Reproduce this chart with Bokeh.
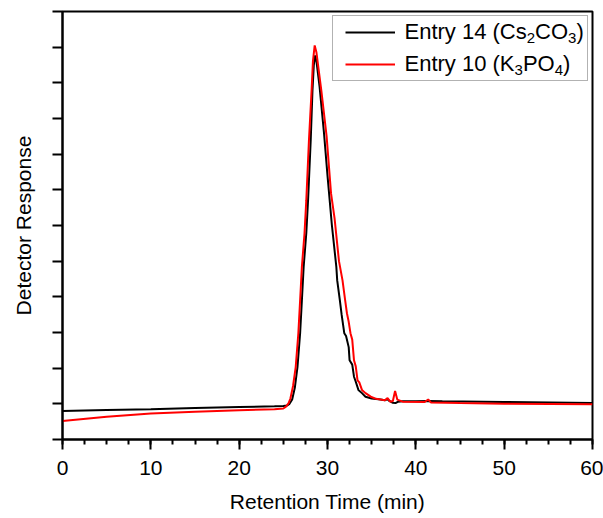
from bokeh.plotting import figure
from bokeh.models import Range1d, SingleIntervalTicker, Legend, LegendItem, FixedTicker, Label
from bokeh.embed import file_html
from bokeh.resources import INLINE

# Entry 14 (Cs2CO3) - black
t_black = [0, 5, 10, 15, 20, 24, 25, 25.4, 25.7, 26.0, 26.3, 26.6, 26.9, 27.1, 27.3,
           27.6, 27.8, 28.1, 28.3, 28.45, 28.6, 28.75, 29.1, 29.6, 30.0, 30.5,
           31.0, 31.1, 31.4, 31.6, 31.9, 32.1, 32.4, 32.5, 32.8, 33.0, 33.2, 33.5, 33.9,
           34.3, 35.0, 36.0, 36.5, 36.8, 37.0, 37.4, 37.7, 38.0, 38.5, 40.0, 41.4, 43.0,
           50.0, 60.0]
y_black = [0.80, 0.83, 0.85, 0.88, 0.91, 0.93, 0.94, 0.95, 1.00, 1.12, 1.45, 2.03, 2.98,
           3.90, 4.84, 5.79, 6.71, 8.39, 9.79, 10.50, 10.77, 10.60, 9.90, 8.60, 7.40, 6.00,
           4.84, 4.46, 3.90, 3.50, 2.98, 2.90, 2.59, 2.22, 2.10, 1.76, 1.62, 1.39, 1.30,
           1.20, 1.15, 1.12, 1.10, 1.13, 1.08, 1.03, 1.02, 1.06, 1.07, 1.07, 1.08, 1.07,
           1.05, 1.02]

# Entry 10 (K3PO4) - red
t_red = [0, 5, 10, 15, 20, 24, 25, 25.3, 25.6, 25.8, 26.1, 26.4, 26.7, 26.9, 27.1, 27.4,
         27.6, 27.9, 28.2, 28.35, 28.55, 28.75, 29.3, 29.9, 30.4, 30.8, 31.3, 31.7,
         32.0, 32.2, 32.4, 32.6, 32.8, 33.0, 33.2, 33.4, 33.6, 33.9, 34.3, 34.9, 35.5,
         36.5, 36.8, 37.1, 37.4, 37.65, 37.9, 38.5, 41.0, 41.4, 41.7, 45.0, 50.0, 60.0]
y_red = [0.52, 0.64, 0.73, 0.78, 0.82, 0.85, 0.87, 0.92, 1.02, 1.15, 1.50, 2.03, 2.98, 3.90,
         4.84, 5.79, 6.71, 8.39, 9.79, 10.60, 11.05, 10.85, 9.79, 8.50, 6.90, 6.20,
         5.00, 4.46, 3.90, 3.54, 3.30, 2.98, 2.80, 2.22, 2.05, 1.66, 1.60, 1.39, 1.30, 1.20,
         1.14, 1.10, 1.16, 1.06, 1.08, 1.36, 1.12, 1.06, 1.05, 1.12, 1.04, 1.02, 1.00, 0.99]

y_ticks = list(range(0, 13))

# legend text pieces: (text, is_subscript)
legend_runs_1 = [("Entry 14 (Cs", False), ("2", True), ("CO", False), ("3", True), (")", False)]
legend_runs_2 = [("Entry 10 (K", False), ("3", True), ("PO", False), ("4", True), (")", False)]

FONT = "Liberation Sans"
LEG_F = 22
SUB_F = 15

# advance widths (per 1000 em) of Liberation Sans glyphs used in the legend
ADV = {"E": 667, "n": 556, "t": 278, "r": 333, "y": 500, " ": 278, "(": 333, ")": 333,
       "C": 722, "s": 500, "O": 778, "K": 667, "P": 667}
for d in "0123456789":
    ADV[d] = 556


def text_width(s, size):
    return sum(ADV[c] for c in s) * size / 1000.0


p = figure(width=603, height=518, x_range=Range1d(0, 60), y_range=Range1d(0, 12),
           output_backend="svg", toolbar_location=None,
           min_border_left=62, min_border_right=11, min_border_top=11, min_border_bottom=79)

p.grid.visible = False
p.outline_line_color = "black"
p.outline_line_width = 2
p.background_fill_color = "white"
p.border_fill_color = "white"

r_black = p.line(t_black, y_black, line_color="black", line_width=2)
r_red = p.line(t_red, y_red, line_color="#ff0000", line_width=2)

xa = p.xaxis[0]
xa.ticker = SingleIntervalTicker(interval=10, num_minor_ticks=4)
xa.axis_line_width = 2
xa.major_tick_line_width = 2
xa.minor_tick_line_width = 2
xa.major_tick_out = 10
xa.major_tick_in = 0
xa.minor_tick_out = 5
xa.minor_tick_in = 0
xa.major_label_text_font = FONT
xa.major_label_text_font_size = "21px"
xa.major_label_text_color = "black"
xa.major_label_standoff = 11
xa.axis_label = "Retention Time (min)"
xa.axis_label_text_font = FONT
xa.axis_label_text_font_size = "21px"
xa.axis_label_text_font_style = "normal"
xa.axis_label_text_color = "black"
xa.axis_label_standoff = 12

ya = p.yaxis[0]
ya.ticker = FixedTicker(ticks=y_ticks)
ya.axis_line_width = 2
ya.major_tick_line_width = 2
ya.major_tick_out = 10
ya.major_tick_in = 0
ya.minor_tick_line_color = None
ya.major_label_text_font_size = "0px"
ya.major_label_text_color = None
ya.axis_label = "Detector Response"
ya.axis_label_text_font = FONT
ya.axis_label_text_font_size = "21px"
ya.axis_label_text_font_style = "normal"
ya.axis_label_text_color = "black"
ya.axis_label_standoff = 18

# legend frame and sample lines (labels drawn separately to get real subscripts)
legend = Legend(items=[
    LegendItem(label=" ", renderers=[r_black]),
    LegendItem(label=" ", renderers=[r_red]),
], location="top_right")
legend.label_text_font_size = "1px"
legend.label_text_alpha = 0
legend.glyph_width = 50
legend.glyph_height = 8
legend.label_height = 8
legend.label_width = 173
legend.label_standoff = 7
legend.spacing = 24
legend.padding = 12
legend.margin = 4
legend.border_line_color = "#666666"
legend.border_line_width = 1
legend.background_fill_color = None
legend.background_fill_alpha = 0
p.add_layout(legend)

# legend texts, positioned in screen units relative to the plot frame
frame_h = 518 - 11 - 79
x_start = 342
for runs, base in ((legend_runs_1, frame_h - 20), (legend_runs_2, frame_h - 52)):
    x = x_start
    for txt, sub in runs:
        size = SUB_F if sub else LEG_F
        lab = Label(x=x, y=(base - 6) if sub else base, x_units="screen", y_units="screen",
                    text=txt, text_font=FONT, text_font_size=f"{size}px",
                    text_color="black", text_baseline="alphabetic", text_align="left",
                    level="overlay")
        p.add_layout(lab)
        x += text_width(txt, size)

open("out.html", "w").write(file_html(p, INLINE))
